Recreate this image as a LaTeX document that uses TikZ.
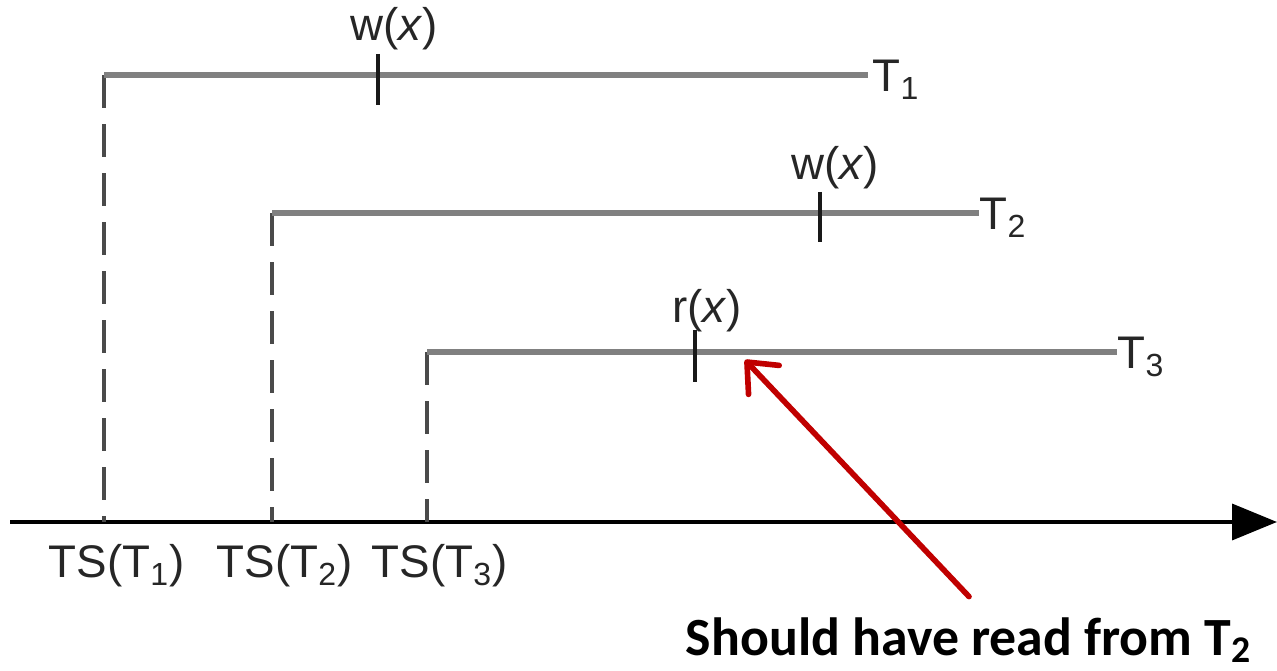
\documentclass[tikz,border=0pt]{standalone}
\usepackage{fontspec}
\setmainfont{Liberation Sans}
\newfontfamily\notefont{Carlito}
\usetikzlibrary{arrows.meta, calc, positioning}

\definecolor{txngray}{HTML}{808080}
\definecolor{dashgray}{HTML}{4A4A4A}
\definecolor{notered}{HTML}{C00000}

\begin{document}
\begin{tikzpicture}[
			x=0.01cm, y=-0.01cm,
			txn/.style={line width=1.9pt, draw=txngray},
			tsline/.style={line width=0.9pt, draw=dashgray, dash pattern=on 0.33cm off 0.16cm},
			opmark/.style={line width=0.9pt, draw=black!90},
			axis/.style={line width=1.15pt, -{Triangle[length=12.8pt, width=10.2pt]}},
			readarrow/.style={line width=1.6pt, draw=notered, -{Straight Barb[round, length=7pt, width=12pt]}, line cap=round},
			lbl/.style={font=\fontsize{13}{15}\selectfont, text=black!85, inner sep=0pt},
			tname/.style={lbl, anchor=west}
			]
			\useasboundingbox (0,0) rectangle (1277,671);
			% time axis
			\coordinate (o) at (10,522);
			\coordinate (tend) at (1277,522);
			\draw[axis] (o) -- (tend);
			% transactions
			\coordinate (s1) at (104,75);  \coordinate (e1) at (868,75);
			\coordinate (s2) at (272,213); \coordinate (e2) at (979,213);
			\coordinate (s3) at (427,352); \coordinate (e3) at (1117,352);
			\draw[tsline] (s1) -- (s1 |- o);
			\draw[tsline] (s2) -- (s2 |- o);
			\draw[tsline] (s3) -- (s3 |- o);
			\draw[txn] (s1) -- (e1);
			\draw[txn] (s2) -- (e2);
			\draw[txn] (s3) -- (e3);
			\node[tname] (t1) at ([xshift=0.04cm, yshift=-0.05cm]e1) {T\textsubscript{1}};
			\node[tname] (t2) at ([yshift=-0.05cm]e2) {T\textsubscript{2}};
			\node[tname] (t3) at ([yshift=-0.05cm]e3) {T\textsubscript{3}};
			% operations
			\coordinate (w1) at (378,75);
			\coordinate (w2) at (820,213);
			\coordinate (r3) at (695,352);
			\draw[opmark] ($(w1)+(0,-21)$) -- ($(w1)+(0,30)$);
			\draw[opmark] ($(w2)+(0,-21)$) -- ($(w2)+(0,29)$);
			\draw[opmark] ($(r3)+(0,-22)$) -- ($(r3)+(0,30)$);
			\node[lbl] (w1lbl) at (394,29) {w(\textit{x})};
			\node[lbl] (w2lbl) at (835,168) {w(\textit{x})};
			\node[lbl] (r3lbl) at (707,311) {r(\textit{x})};
			% timestamps
			\node[lbl] (ts1) at (117,566) {TS(T\textsubscript{1})};
			\node[lbl] (ts2) at (285,566) {TS(T\textsubscript{2})};
			\node[lbl] (ts3) at (440,566) {TS(T\textsubscript{3})};
			% annotation
			\coordinate (hit) at (745,360);
			\node[font=\notefont\bfseries\fontsize{15.3}{18}\selectfont, inner sep=0pt] (note) at (969,640) {Should have read from T\textsubscript{2}};
			\draw[readarrow] ([yshift=0.2cm]note.north) -- (hit);
		\end{tikzpicture}
\end{document}
